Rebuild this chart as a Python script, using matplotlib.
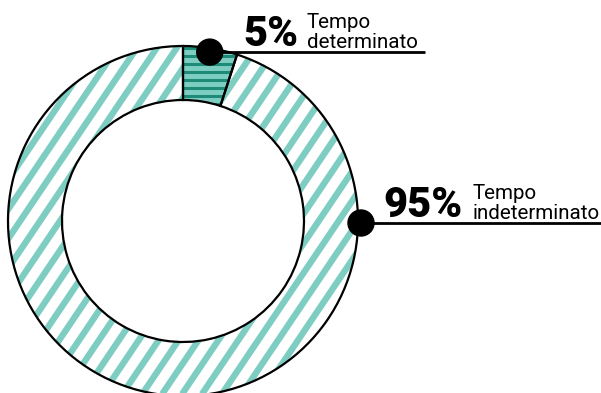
import numpy as np
import matplotlib.pyplot as plt
from matplotlib.patches import Wedge, Circle

# contract split
labels = ["Tempo\ndeterminato", "Tempo\nindeterminato"]
shares = [5, 95]
pct_text = ["5%", "95%"]

teal = "#7ecdc2"
dark_teal = "#1e8b79"

W, H = 601, 393
cx, cy = 183, H - 221
r_out, ring = 175, 54


def Y(y):
    # screen-style y (from top) to axes y
    return H - y


fig = plt.figure(figsize=(W / 100, H / 100), dpi=100)
ax = fig.add_axes([0, 0, 1, 1])

wedges, _ = ax.pie(shares, startangle=90, counterclock=False,
                   radius=r_out, center=(cx, cy),
                   colors=[teal, "white"],
                   wedgeprops=dict(width=ring, linewidth=0, zorder=1))
ax.set_xlim(0, W)
ax.set_ylim(0, H)
ax.set_aspect("equal")
ax.axis("off")


def stripes(wedge, angle, period, lw, color):
    a = np.deg2rad(angle)
    d = np.array([np.cos(a), np.sin(a)])
    n = np.array([-np.sin(a), np.cos(a)])
    for off in np.arange(-r_out - 20, r_out + 20, period):
        p0 = np.array([cx, cy]) + n * off - d * (r_out + 20)
        p1 = np.array([cx, cy]) + n * off + d * (r_out + 20)
        ln, = ax.plot([p0[0], p1[0]], [p0[1], p1[1]], color=color,
                      lw=lw, solid_capstyle="butt", zorder=2)
        ln.set_clip_path(wedge)


# horizontal dark lines on the small slice, diagonal bars on the big one
stripes(wedges[0], 0, 8, 2.2, dark_teal)
stripes(wedges[1], 56, 16.5, 4.6, teal)

# outlines on top
for w in wedges:
    ax.add_patch(Wedge(w.center, w.r, w.theta1, w.theta2, width=w.width,
                       fill=False, edgecolor="black", lw=1.6, zorder=3))

# callout dots, leader lines and labels
w0 = wedges[0]
mid = np.deg2rad((w0.theta1 + w0.theta2) / 2)
dots = [(cx + (r_out - 4) * np.cos(mid), cy + (r_out - 4) * np.sin(mid)),
        (cx + r_out + 3, Y(223))]
line_end = [425, W]
pct_x = [243, 383]
desc_x = [307, 473]

for (dx, dy), x_end, pct, lab, px, tx in zip(dots, line_end, pct_text,
                                             labels, pct_x, desc_x):
    ax.plot([dx, x_end], [dy, dy], color="black", lw=2, zorder=4,
            solid_capstyle="butt")
    ax.add_patch(Circle((dx, dy), 13, color="black", zorder=5))
    ax.text(px, dy + 6, pct, fontsize=30, fontweight="heavy",
            family="Roboto", ha="left", va="baseline", zorder=6)
    top, bottom = lab.split("\n")
    ax.text(tx, dy + 4, bottom, fontsize=14.8, family="Roboto",
            ha="left", va="baseline")
    ax.text(tx, dy + 24, top, fontsize=14.8, family="Roboto",
            ha="left", va="baseline")

fig.savefig("out.png", dpi=100)
